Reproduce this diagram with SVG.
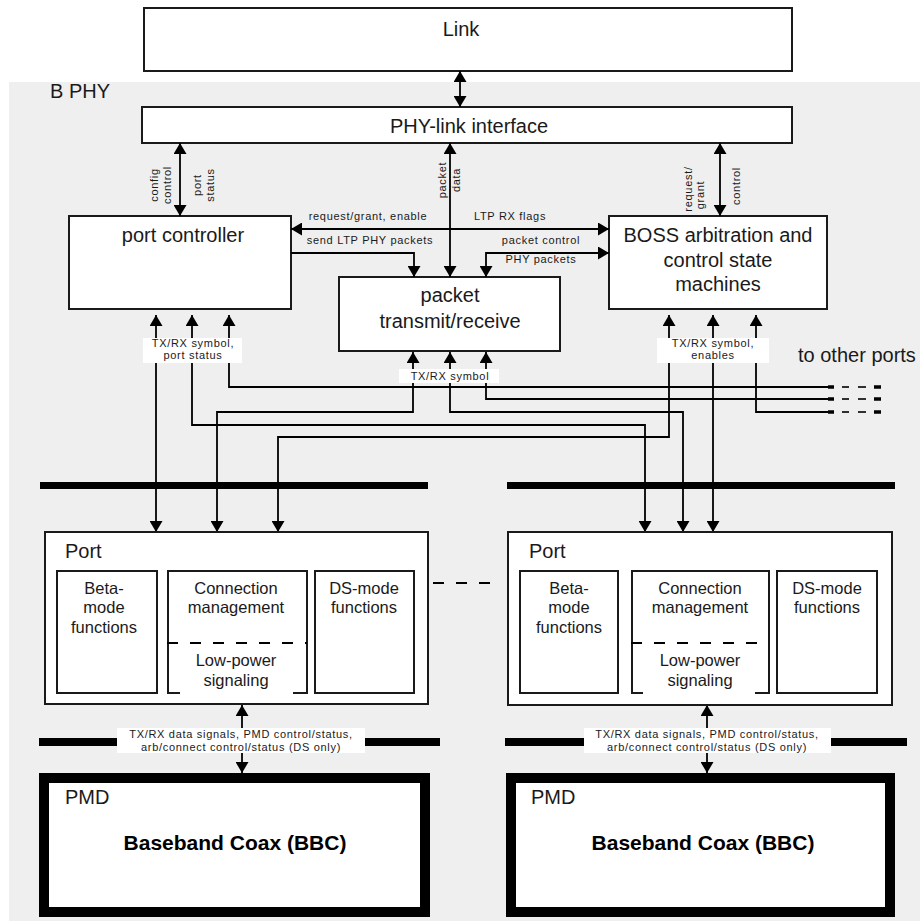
<svg xmlns="http://www.w3.org/2000/svg" width="920" height="921" viewBox="0 0 920 921">
<style>
.t{font-family:"Liberation Sans",Arial,sans-serif;fill:#1a1a1a}
.big{font-size:20px}
.mid{font-size:16.5px}
.sm{font-size:11px;letter-spacing:0.7px}
.c{text-anchor:middle}
.bold{font-weight:bold;font-size:21px;fill:#000}
.box{fill:#fff;stroke:#1a1a1a;stroke-width:2}
.ln{fill:none;stroke:#000;stroke-width:1.8}
.dash{fill:none;stroke:#000;stroke-width:1.8;stroke-dasharray:11 12}
.lab{fill:#fff;stroke:none}
.bar{fill:#000}
.pmd{fill:#fff;stroke:#000;stroke-width:10}
</style>
<defs>
<marker id="ah" viewBox="0 0 11 13" markerWidth="11" markerHeight="13" refX="11" refY="6.5" orient="auto-start-reverse" markerUnits="userSpaceOnUse">
<path d="M0,0 L11,6.5 L0,13 z" fill="#000"/>
</marker>
<g id="dashes">
<line x1="828" y1="0" x2="834" y2="0" stroke="#000" stroke-width="3.5"/>
<line x1="842" y1="0" x2="849" y2="0" stroke="#000" stroke-width="1.6"/>
<line x1="858" y1="0" x2="866" y2="0" stroke="#000" stroke-width="1.6"/>
<line x1="874" y1="0" x2="881" y2="0" stroke="#000" stroke-width="3.5"/>
</g>
</defs>

<rect x="9" y="82" width="911" height="839" fill="#efefef"/>
<text class="t big" x="50" y="98">B PHY</text>

<g id="link">
<rect class="box" x="144" y="8" width="648" height="63"/>
<text class="t big c" x="461" y="36">Link</text>
</g>

<g id="phy-link-interface">
<rect class="box" x="142" y="107" width="650" height="36"/>
<text class="t big c" x="469" y="133">PHY-link interface</text>
</g>

<g id="port-controller">
<rect class="box" x="69" y="216" width="222" height="93"/>
<text class="t big c" x="183" y="242">port controller</text>
</g>

<g id="packet-tx-rx">
<rect class="box" x="339" y="277" width="221" height="74"/>
<text class="t big c" x="450" y="302">packet</text>
<text class="t big c" x="450" y="328">transmit/receive</text>
</g>

<g id="boss">
<rect class="box" x="609" y="216" width="218" height="93"/>
<text class="t big c" x="718" y="242">BOSS arbitration and</text>
<text class="t big c" x="718" y="267">control state</text>
<text class="t big c" x="718" y="291">machines</text>
</g>

<g id="buses">
<rect class="bar" x="40" y="482" width="388" height="7"/>
<rect class="bar" x="507" y="482" width="388" height="7"/>
<rect class="bar" x="39" y="738" width="401" height="8"/>
<rect class="bar" x="505" y="738" width="402" height="8"/>
</g>

<g id="connectors">
<path class="ln" d="M460,71 V107" marker-start="url(#ah)" marker-end="url(#ah)"/>
<path class="ln" d="M180,143 V216" marker-start="url(#ah)" marker-end="url(#ah)"/>
<path class="ln" d="M450,143 V277" marker-start="url(#ah)" marker-end="url(#ah)"/>
<path class="ln" d="M720,143 V216" marker-start="url(#ah)" marker-end="url(#ah)"/>
<path class="ln" d="M291,229 H609" marker-start="url(#ah)" marker-end="url(#ah)"/>
<path class="ln" d="M291,253 H414 V277" marker-end="url(#ah)"/>
<path class="ln" d="M609,253 H486 V277" marker-start="url(#ah)" marker-end="url(#ah)"/>

<path class="ln" d="M156,315 V532" marker-start="url(#ah)" marker-end="url(#ah)"/>
<path class="ln" d="M192,315 V425 H645 V532" marker-start="url(#ah)" marker-end="url(#ah)"/>
<path class="ln" d="M229,315 V387 H828" marker-start="url(#ah)"/>
<path class="ln" d="M413,352 V412 H217 V532" marker-start="url(#ah)" marker-end="url(#ah)"/>
<path class="ln" d="M450,352 V412 H683 V532" marker-start="url(#ah)" marker-end="url(#ah)"/>
<path class="ln" d="M486,352 V399 H828" marker-start="url(#ah)"/>
<path class="ln" d="M669,315 V437 H278 V532" marker-start="url(#ah)" marker-end="url(#ah)"/>
<path class="ln" d="M713,315 V532" marker-start="url(#ah)" marker-end="url(#ah)"/>
<path class="ln" d="M756,315 V412 H828" marker-start="url(#ah)"/>
<use href="#dashes" y="387"/>
<use href="#dashes" y="399"/>
<use href="#dashes" y="412"/>

<path class="ln" d="M242,705 V773" marker-start="url(#ah)" marker-end="url(#ah)"/>
<path class="ln" d="M707,705 V773" marker-start="url(#ah)" marker-end="url(#ah)"/>
<path class="dash" d="M433,583 H498"/>
</g>

<g id="labels">
<text class="t sm" transform="translate(158,185) rotate(-90)" text-anchor="middle">config</text>
<text class="t sm" transform="translate(171,185) rotate(-90)" text-anchor="middle">control</text>
<text class="t sm" transform="translate(201,185) rotate(-90)" text-anchor="middle">port</text>
<text class="t sm" transform="translate(214,185) rotate(-90)" text-anchor="middle">status</text>
<text class="t sm" transform="translate(446,180) rotate(-90)" text-anchor="middle">packet</text>
<text class="t sm" transform="translate(460,180) rotate(-90)" text-anchor="middle">data</text>
<text class="t sm" transform="translate(692,189) rotate(-90)" text-anchor="middle">request/</text>
<text class="t sm" transform="translate(704,195) rotate(-90)" text-anchor="middle">grant</text>
<text class="t sm" transform="translate(740,186) rotate(-90)" text-anchor="middle">control</text>

<text class="t sm c" x="368" y="220">request/grant, enable</text>
<text class="t sm c" x="510" y="220">LTP RX flags</text>
<text class="t sm c" x="370" y="244">send LTP PHY packets</text>
<text class="t sm c" x="541" y="244">packet control</text>
<text class="t sm c" x="541" y="263">PHY packets</text>

<rect class="lab" x="143" y="338" width="99" height="25"/>
<text class="t sm c" x="193" y="347">TX/RX symbol,</text>
<text class="t sm c" x="193" y="359">port status</text>

<rect class="lab" x="399" y="369" width="100" height="14"/>
<text class="t sm c" x="450" y="380">TX/RX symbol</text>

<rect class="lab" x="657" y="338" width="112" height="25"/>
<text class="t sm c" x="713" y="347">TX/RX symbol,</text>
<text class="t sm c" x="713" y="359">enables</text>

<text class="t big" x="798" y="362">to other ports</text>

<rect class="lab" x="117" y="728" width="248" height="25"/>
<text class="t sm c" x="241" y="738">TX/RX data signals, PMD control/status,</text>
<text class="t sm c" x="241" y="751">arb/connect control/status (DS only)</text>

<rect class="lab" x="584" y="728" width="247" height="25"/>
<text class="t sm c" x="707" y="738">TX/RX data signals, PMD control/status,</text>
<text class="t sm c" x="707" y="751">arb/connect control/status (DS only)</text>
</g>

<g id="port-left">
<rect class="box" x="45" y="532" width="383" height="172"/>
<text class="t big" x="65" y="558">Port</text>
<rect class="box" x="57" y="571" width="100" height="122"/>
<text class="t mid c" x="104" y="594">Beta-</text>
<text class="t mid c" x="104" y="613">mode</text>
<text class="t mid c" x="104" y="633">functions</text>
<path class="ln" style="stroke:#1a1a1a;stroke-width:2" d="M180,693 H168 V571 H307 V693 H293"/>
<path class="dash" d="M167,643 H307"/>
<text class="t mid c" x="236" y="594">Connection</text>
<text class="t mid c" x="236" y="613">management</text>
<text class="t mid c" x="236" y="666">Low-power</text>
<text class="t mid c" x="236" y="686">signaling</text>
<rect class="box" x="315" y="571" width="99" height="122"/>
<text class="t mid c" x="364" y="594">DS-mode</text>
<text class="t mid c" x="364" y="613">functions</text>
</g>

<g id="port-right">
<rect class="box" x="508" y="532" width="384" height="173"/>
<text class="t big" x="529" y="558">Port</text>
<rect class="box" x="520" y="571" width="98" height="122"/>
<text class="t mid c" x="569" y="594">Beta-</text>
<text class="t mid c" x="569" y="613">mode</text>
<text class="t mid c" x="569" y="633">functions</text>
<path class="ln" style="stroke:#1a1a1a;stroke-width:2" d="M643,693 H632 V571 H769 V693 H755"/>
<path class="dash" d="M631,643 H769"/>
<text class="t mid c" x="700" y="594">Connection</text>
<text class="t mid c" x="700" y="613">management</text>
<text class="t mid c" x="700" y="666">Low-power</text>
<text class="t mid c" x="700" y="686">signaling</text>
<rect class="box" x="777" y="571" width="100" height="122"/>
<text class="t mid c" x="827" y="594">DS-mode</text>
<text class="t mid c" x="827" y="613">functions</text>
</g>

<g id="pmd-left">
<rect class="pmd" x="44" y="778" width="381" height="134"/>
<text class="t big" x="65" y="804">PMD</text>
<text class="t bold c" x="235" y="850">Baseband Coax (BBC)</text>
</g>

<g id="pmd-right">
<rect class="pmd" x="511" y="778" width="379" height="134"/>
<text class="t big" x="531" y="804">PMD</text>
<text class="t bold c" x="703" y="850">Baseband Coax (BBC)</text>
</g>
</svg>
